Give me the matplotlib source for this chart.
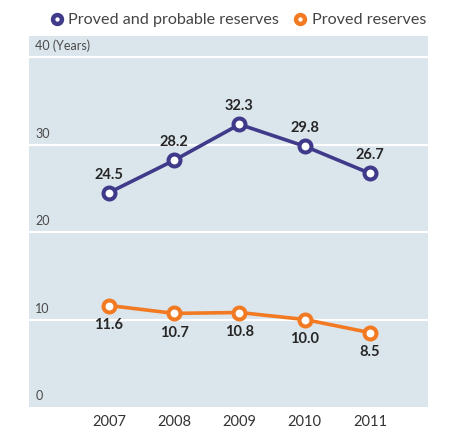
import matplotlib.pyplot as plt

years = [2007, 2008, 2009, 2010, 2011]
proved_probable = [24.5, 28.2, 32.3, 29.8, 26.7]
proved = [11.6, 10.7, 10.8, 10.0, 8.5]
y_ticks = [0, 10, 20, 30, 40]
y_tick_labels = ["0", "10", "20", "30", "40 (Years)"]

PURPLE = "#3f3a8a"
ORANGE = "#f27a22"
BG = "#dbe5ec"

plt.rcParams["font.family"] = ["Lato", "DejaVu Sans"]

fig = plt.figure(figsize=(4.52, 4.28), dpi=100)
ax = fig.add_axes([29 / 452, 21 / 428, 399 / 452, 371 / 428])
ax.set_facecolor(BG)
ax.set_xlim(2005.774, 2011.889)
ax.set_ylim(0, 42.4)

for y in y_ticks[1:]:
    ax.axhline(y, color="white", lw=1.6, zorder=1)
for y, lab in zip(y_ticks, y_tick_labels):
    ax.annotate(lab, (0, y), xycoords=("axes fraction", "data"),
                xytext=(4.5, 3.5), textcoords="offset points",
                ha="left", va="bottom", fontsize=9, color="#4a4a4a")

for vals, col, off in [(proved_probable, PURPLE, 8), (proved, ORANGE, -9)]:
    ax.plot(years, vals, color=col, lw=2.6, marker="o", ms=8.6,
            mfc="white", mec=col, mew=2.9, zorder=3, clip_on=False)
    for x, v in zip(years, vals):
        ax.annotate(f"{v:.1f}", (x, v), xytext=(0, off), textcoords="offset points",
                    ha="center", va="bottom" if off > 0 else "top",
                    fontsize=10.5, fontweight="bold", color="#262626")

ax.set_xticks(years)
ax.set_xticklabels([str(y) for y in years], fontsize=10.5, color="#333333")
ax.tick_params(axis="x", length=0, pad=6)
ax.set_yticks([])
for s in ax.spines.values():
    s.set_visible(False)

# legend row above the plot
for mx, tx, col, lab in [(57, 68, PURPLE, "Proved and probable reserves"),
                         (300, 312, ORANGE, "Proved reserves")]:
    fig.lines.append(plt.Line2D([mx / 452], [1 - 19 / 428], transform=fig.transFigure,
                                marker="o", ms=6.4, mfc="white", mec=col, mew=3.2))
    fig.text(tx / 452, 1 - 20 / 428, lab, fontsize=11.6, color="#444444",
             ha="left", va="center")

fig.savefig("out.png", dpi=100)
